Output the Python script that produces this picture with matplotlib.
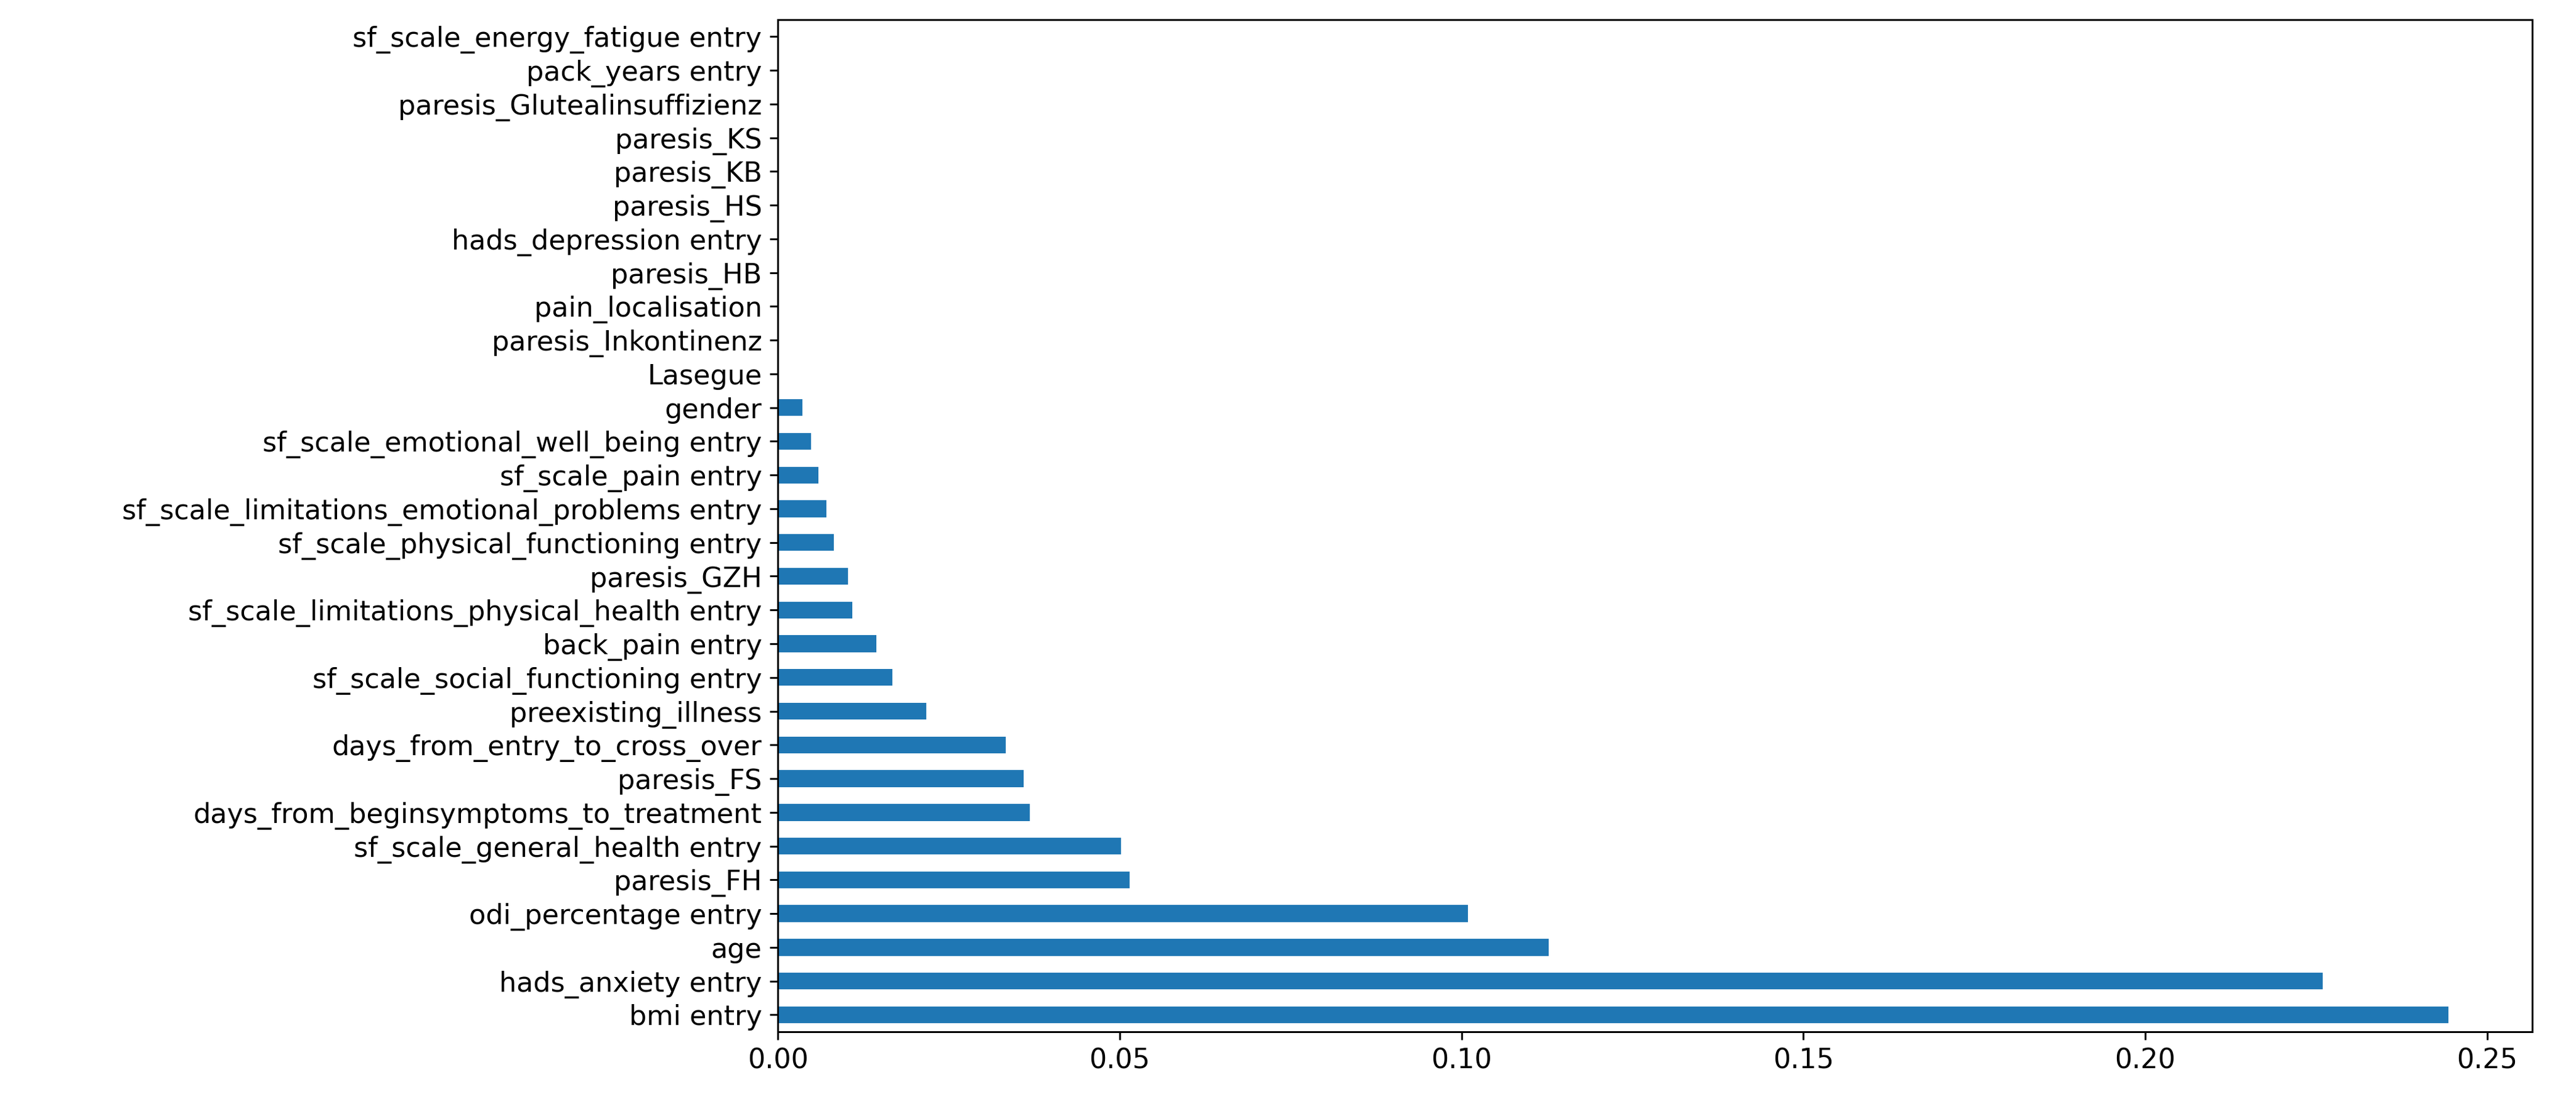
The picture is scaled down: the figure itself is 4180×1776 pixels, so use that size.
import matplotlib
matplotlib.use('Agg')
import matplotlib.pyplot as plt

# feature importances, bottom to top
features = [
    'bmi entry', 'hads_anxiety entry', 'age', 'odi_percentage entry', 'paresis_FH',
    'sf_scale_general_health entry', 'days_from_beginsymptoms_to_treatment', 'paresis_FS',
    'days_from_entry_to_cross_over', 'preexisting_illness', 'sf_scale_social_functioning entry',
    'back_pain entry', 'sf_scale_limitations_physical_health entry', 'paresis_GZH',
    'sf_scale_physical_functioning entry', 'sf_scale_limitations_emotional_problems entry',
    'sf_scale_pain entry', 'sf_scale_emotional_well_being entry', 'gender', 'Lasegue',
    'paresis_Inkontinenz', 'pain_localisation', 'paresis_HB', 'hads_depression entry',
    'paresis_HS', 'paresis_KB', 'paresis_KS', 'paresis_Glutealinsuffizienz',
    'pack_years entry', 'sf_scale_energy_fatigue entry',
]
importances = [
    0.2444, 0.2260, 0.1127, 0.1009, 0.0514, 0.0502, 0.0368, 0.0359, 0.0333, 0.0217,
    0.0167, 0.0144, 0.0109, 0.0102, 0.0082, 0.0071, 0.0059, 0.0048, 0.0036, 0.0,
    0.0, 0.0, 0.0, 0.0, 0.0, 0.0, 0.0, 0.0, 0.0, 0.0,
]

fig = plt.figure(figsize=(15.675, 6.66), dpi=266.67)
ax = fig.add_axes([0.302, 0.057, 0.681, 0.925])
ax.barh(range(len(features)), importances, height=0.5, color='#1f77b4')
ax.set_yticks(range(len(features)))
ax.set_yticklabels(features)
ax.tick_params(labelsize=12)
ax.set_ylim(-0.5, len(features) - 0.5)

fig.savefig('out.png', dpi=266.67)
